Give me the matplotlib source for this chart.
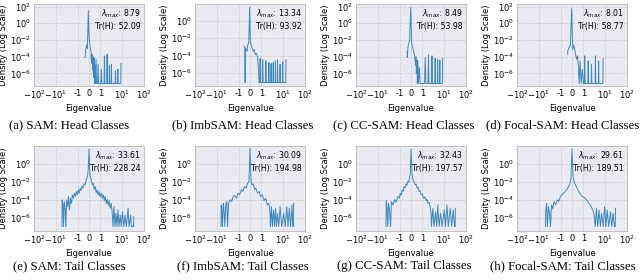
import matplotlib
matplotlib.use("Agg")
import matplotlib.pyplot as plt
import numpy as np
from matplotlib.ticker import NullLocator, FixedLocator

titles = ["(a) SAM: Head Classes", "(b) ImbSAM: Head Classes", "(c) CC-SAM: Head Classes",
          "(d) Focal-SAM: Head Classes", "(e) SAM: Tail Classes", "(f) ImbSAM: Tail Classes",
          "(g) CC-SAM: Tail Classes", "(h) Focal-SAM: Tail Classes"]
lam_max = [8.79, 13.34, 8.49, 8.01, 33.61, 30.09, 32.43, 29.61]
trace_h = [52.09, 93.92, 53.98, 58.77, 228.24, 194.98, 197.57, 189.51]

xtick_vals = [-100, -10, -1, 0, 1, 10, 100]
xtick_labels = ["$-10^2$", "$-10^1$", "-1", "0", "1", "$10^1$", "$10^2$"]
ytick_vals = [1e-6, 1e-4, 1e-2, 1e0, 1e2]

# eigenvalue grid points and log10(density)
a_x = [-0.34, -0.29, -0.20, -0.14, -0.06, 0.0, 0.06, 0.12, 0.17, 0.20, 0.23, 0.26, 0.29, 0.32, 0.35,
       0.38, 0.41, 0.44, 0.47, 0.50, 0.53, 0.57, 0.62, 0.66, 0.75, 0.80, 0.84, 1.05, 1.11, 1.17,
       1.48, 1.53, 1.58, 1.97, 2.03, 2.09, 2.52, 2.6, 2.68, 3.1, 3.2, 3.3, 4.75, 4.9, 5.05,
       6.1, 6.3, 6.5, 8.6, 8.79]
a_y = [-4.1, -3.2, -2.6, -3.0, 1.5, -1.6, -2.4, -3.0, -3.4, -4.3, -3.6, -4.8, -3.8, -5.5, -4.0,
       -6.0, -4.5, -6.5, -4.2, -7.2, -5.0, -7.2, -4.3, -7.2, -7.2, -4.9, -7.2, -7.2, -5.5, -7.2,
       -7.2, -3.9, -7.2, -7.2, -3.7, -7.2, -7.2, -5.0, -7.2, -7.2, -4.9, -7.2, -7.2, -5.7, -7.2,
       -7.2, -5.5, -7.2, -7.2, -4.8]

b_x = [-0.54, -0.46, -0.43, -0.40, -0.26, -0.20, -0.11, -0.03, 0.03, 0.09, 0.17, 0.29, 0.37, 0.46, 0.54,
       0.66, 0.74, 0.80, 0.86, 0.89, 0.93, 1.11, 1.15, 1.2, 1.55, 1.6, 1.66, 2.12, 2.2, 2.28,
       2.7, 2.8, 2.9, 3.4, 3.5, 3.6, 4.3, 4.4, 4.5, 5.35, 5.5, 5.65, 7.0, 7.2, 7.4,
       9.3, 9.5, 9.7, 13.1, 13.34]
b_y = [-2.9, -3.0, -7.1, -3.1, -3.5, -2.75, -2.6, 1.6, -2.4, -2.75, -3.1, -3.5, -3.3, -3.9, -3.7,
       -4.1, -5.4, -7.1, -7.1, -4.3, -7.1, -7.1, -4.5, -7.1, -7.1, -4.6, -7.1, -7.1, -4.8, -7.1,
       -7.1, -4.9, -7.1, -7.1, -4.8, -7.1, -7.1, -4.6, -7.1, -7.1, -4.5, -7.1, -7.1, -5.0, -7.1,
       -7.1, -4.7, -7.1, -7.1, -4.5]

c_x = [-0.34, -0.32, -0.26, -0.2, -0.12, -0.03, 0.06, 0.17, 0.26, 0.34, 0.40, 0.43, 0.47, 0.52, 0.56,
       0.6, 0.65, 0.74, 0.8, 0.86, 1.25, 1.35, 1.45, 1.8, 1.9, 2.0, 2.65, 2.75, 2.85, 3.7,
       3.85, 4.0, 4.85, 5.0, 5.15, 6.1, 6.3, 6.5, 8.3, 8.49]
c_y = [-3.35, -4.1, -2.8, -2.4, -2.0, 1.9, -2.4, -3.0, -3.5, -4.1, -5.0, -4.0, -6.0, -4.4, -7.2,
       -4.5, -7.2, -5.3, -7.2, -7.2, -7.2, -4.1, -7.2, -7.2, -3.8, -7.2, -7.2, -3.9, -7.2, -7.2,
       -4.2, -7.2, -7.2, -4.3, -7.2, -7.2, -4.4, -7.2, -7.2, -4.2]

d_x = [-0.38, -0.37, -0.23, -0.14, -0.03, 0.06, 0.14, 0.23, 0.31, 0.40, 0.49, 0.57, 0.63, 0.71, 0.80,
       0.91, 1.0, 1.1, 1.15, 1.2, 1.6, 1.67, 1.74, 2.28, 2.36, 2.44, 3.45, 3.56, 3.67, 4.85,
       5.0, 5.15, 7.85, 8.01]
d_y = [-3.7, -3.3, -2.8, -2.6, 1.75, -3.15, -2.6, -3.0, -3.7, -4.3, -3.9, -5.3, -7.2, -4.5, -7.2,
       -5.5, -7.2, -7.2, -3.9, -7.2, -7.2, -4.5, -7.2, -7.2, -4.9, -7.2, -7.2, -3.9, -7.2, -7.2,
       -4.5, -7.2, -7.2, -4.2]

e_x = [-5.2, -5.1, -4.7, -4.4, -4.1, -3.7, -3.45, -3.2, -2.9, -2.6, -2.36, -2.13, -1.92, -1.73, -1.56,
       -1.41, -1.27, -1.15, -1.03, -0.94, -0.86, -0.77, -0.69, -0.6, -0.51, -0.43, -0.34, -0.26, -0.17, -0.11,
       -0.06, 0.0, 0.06, 0.11, 0.2, 0.29, 0.37, 0.46, 0.54, 0.63, 0.71, 0.8, 0.89, 0.97, 1.11,
       1.23, 1.36, 1.51, 1.67, 1.86, 2.06, 2.28, 2.53, 2.8, 3.1, 3.45, 3.82, 4.2, 4.7, 5.2,
       5.77, 6.4, 7.1, 8.1, 9.0, 10.3, 11.9, 13.6, 15.6, 18.6, 20.5, 24.5, 26.0, 33.0, 33.61]
e_y = [-7.0, -4.04, -4.61, -7.0, -4.23, -5.17, -7.0, -4.04, -4.79, -3.67, -5.17, -3.86, -4.42, -3.48, -3.86,
       -3.30, -3.67, -3.11, -3.48, -2.92, -3.30, -2.73, -3.0, -2.47, -2.73, -2.25, -2.36, -1.87, -1.61, -1.24,
       -0.49, 1.57, -0.67, -1.42, -1.87, -2.36, -2.17, -2.85, -2.55, -3.22, -2.92, -3.48, -3.11, -3.67, -3.30,
       -3.86, -3.48, -4.12, -3.67, -4.42, -3.97, -4.61, -4.12, -4.98, -4.42, -5.36, -7.0, -4.79, -7.0, -5.54,
       -7.0, -5.17, -7.0, -5.73, -7.0, -5.36, -7.0, -5.73, -7.0, -4.98, -7.0, -5.73, -7.0, -7.0, -5.9]

f_x = [-6.4, -6.3, -5.9, -5.5, -5.1, -4.7, -4.3, -3.9, -3.5, -3.2, -2.9, -2.5, -2.1, -1.8, -1.5,
       -1.25, -1.07, -0.91, -0.77, -0.63, -0.49, -0.34, -0.2, -0.09, 0.0, 0.09, 0.17, 0.29, 0.4, 0.51,
       0.66, 0.8, 0.94, 1.11, 1.32, 1.56, 1.86, 2.2, 2.45, 2.6, 2.9, 3.2, 3.6, 4.0, 4.45,
       4.9, 5.5, 6.3, 7.2, 8.6, 10.6, 12.4, 14.6, 16.6, 19.0, 22.0, 25.3, 27.5, 29.6, 30.09]
f_y = [-7.0, -4.61, -5.17, -7.0, -4.42, -4.98, -7.0, -4.61, -4.23, -7.0, -4.42, -4.04, -4.23, -3.67, -3.55,
       -3.86, -3.30, -3.48, -2.92, -3.11, -2.55, -2.73, -2.17, -1.99, 1.70, -1.99, -2.36, -2.25, -2.92, -2.73,
       -3.30, -3.11, -3.67, -3.48, -4.12, -3.86, -4.61, -4.42, -5.17, -7.0, -4.79, -7.0, -5.17, -7.0, -4.98,
       -7.0, -5.54, -7.0, -4.79, -7.0, -5.54, -7.0, -4.79, -7.0, -4.98, -7.0, -4.61, -7.0, -7.0, -4.42]

g_x = [-4.2, -4.1, -3.8, -3.5, -3.2, -2.9, -2.6, -2.35, -2.0, -1.7, -1.45, -1.19, -1.03, -0.94, -0.85,
       -0.77, -0.69, -0.6, -0.5, -0.43, -0.35, -0.29, -0.2, -0.14, -0.06, 0.0, 0.09, 0.2, 0.29, 0.37,
       0.45, 0.54, 0.62, 0.71, 0.8, 0.89, 1.0, 1.15, 1.3, 1.47, 1.65, 1.8, 2.0, 2.25, 2.45,
       2.6, 3.0, 3.4, 4.0, 4.5, 5.1, 5.8, 6.8, 8.0, 10.0, 11.5, 13.3, 15.5, 18.9, 22.0,
       25.8, 30.0, 32.0, 32.43]
g_y = [-7.0, -4.12, -4.79, -7.0, -4.42, -5.17, -7.0, -4.23, -4.61, -4.0, -4.3, -3.67, -3.85, -3.30, -3.5,
       -2.92, -3.1, -2.55, -2.7, -2.25, -2.4, -1.99, -2.1, -1.61, -1.05, 1.62, -1.24, -1.87, -2.1, -2.36,
       -2.3, -2.73, -2.65, -3.11, -3.0, -3.48, -3.4, -3.86, -3.7, -4.12, -4.0, -4.42, -4.3, -4.79, -5.2,
       -7.0, -4.98, -7.0, -5.36, -7.0, -4.61, -7.0, -5.54, -7.0, -5.17, -7.0, -4.61, -7.0, -4.98, -7.0,
       -5.17, -7.0, -7.0, -4.98]

h_x = [-4.9, -4.8, -4.4, -4.0, -3.6, -3.2, -2.9, -2.6, -2.3, -2.0, -1.7, -1.4, -1.2, -1.03, -0.89,
       -0.74, -0.6, -0.46, -0.31, -0.17, -0.09, 0.0, 0.09, 0.2, 0.34, 0.51, 0.69, 0.86, 1.19, 1.46,
       1.8, 2.2, 2.7, 3.1, 3.5, 3.95, 4.5, 5.2, 6.0, 6.8, 8.1, 9.4, 10.8, 12.3, 14.5,
       17.5, 20.0, 23.0, 26.5, 29.0, 29.61]
h_y = [-7.0, -5.17, -4.42, -7.0, -4.8, -5.54, -7.0, -4.61, -5.0, -4.23, -4.6, -4.04, -4.2, -3.67, -3.48,
       -3.3, -3.11, -2.92, -2.55, -2.17, -1.61, 1.62, -1.42, -2.10, -2.47, -2.92, -3.30, -3.60, -3.86, -4.12,
       -4.42, -4.72, -5.17, -5.73, -7.0, -4.98, -7.0, -5.17, -7.0, -5.54, -7.0, -4.79, -7.0, -5.17, -7.0,
       -5.36, -7.0, -5.54, -7.0, -7.0, -4.98]

series_x = [a_x, b_x, c_x, d_x, e_x, f_x, g_x, h_x]
series_y = [a_y, b_y, c_y, d_y, e_y, f_y, g_y, h_y]

W, H = 640, 280
fig = plt.figure(figsize=(W / 100, H / 100), dpi=100)

col_left = [34, 195, 356, 517]
ax_w = 110
row_top = [4, 146]
row_h = [82, 85]
cap_cx = [69, 243, 404, 563]
cap_cy = [125, 266]
ytop = [2.3, 1.95, 2.3, 2.3, 1.95, 1.95, 1.95, 1.95]

for i in range(8):
    r, c = divmod(i, 4)
    ax = fig.add_axes([col_left[c] / W, 1 - (row_top[r] + row_h[r]) / H, ax_w / W, row_h[r] / H])
    ax.set_facecolor("#EAEAF2")
    ax.set_xscale("symlog", linthresh=1, linscale=0.47)
    ax.set_yscale("log")
    xs = np.array(series_x[i])
    ys = 10.0 ** np.array(series_y[i])
    ax.plot(xs, ys, color="#1f77b4", lw=0.7, alpha=0.85)
    ax.set_xlim(-100, 100)
    ax.set_ylim(10 ** -7.5, 10 ** ytop[i])
    ax.xaxis.set_major_locator(FixedLocator(xtick_vals))
    ax.set_xticklabels(xtick_labels)
    ax.yaxis.set_major_locator(FixedLocator(ytick_vals))
    ax.xaxis.set_minor_locator(NullLocator())
    ax.yaxis.set_minor_locator(NullLocator())
    ax.tick_params(labelsize=6, length=0, pad=2)
    ax.grid(True, color="#9a9a9a", linestyle="--", lw=0.5, alpha=0.4)
    ax.set_axisbelow(True)
    for s in ax.spines.values():
        s.set_color("#b8b8b8")
        s.set_linewidth(0.6)
    ax.set_xlabel("Eigenvalue", fontsize=6, labelpad=2)
    ax.set_ylabel("Density (Log Scale)", fontsize=6, labelpad=1.5)
    ax.text(0.97, 0.96, "$\\lambda_{max}$: %.2f\nTr(H): %.2f" % (lam_max[i], trace_h[i]),
            transform=ax.transAxes, ha="right", va="top", fontsize=5.6, linespacing=1.3)
    fig.text(cap_cx[c] / W, 1 - cap_cy[r] / H, titles[i], ha="center", va="center",
             fontsize=9.2, family="Liberation Serif")

fig.savefig("out.png", dpi=100)
